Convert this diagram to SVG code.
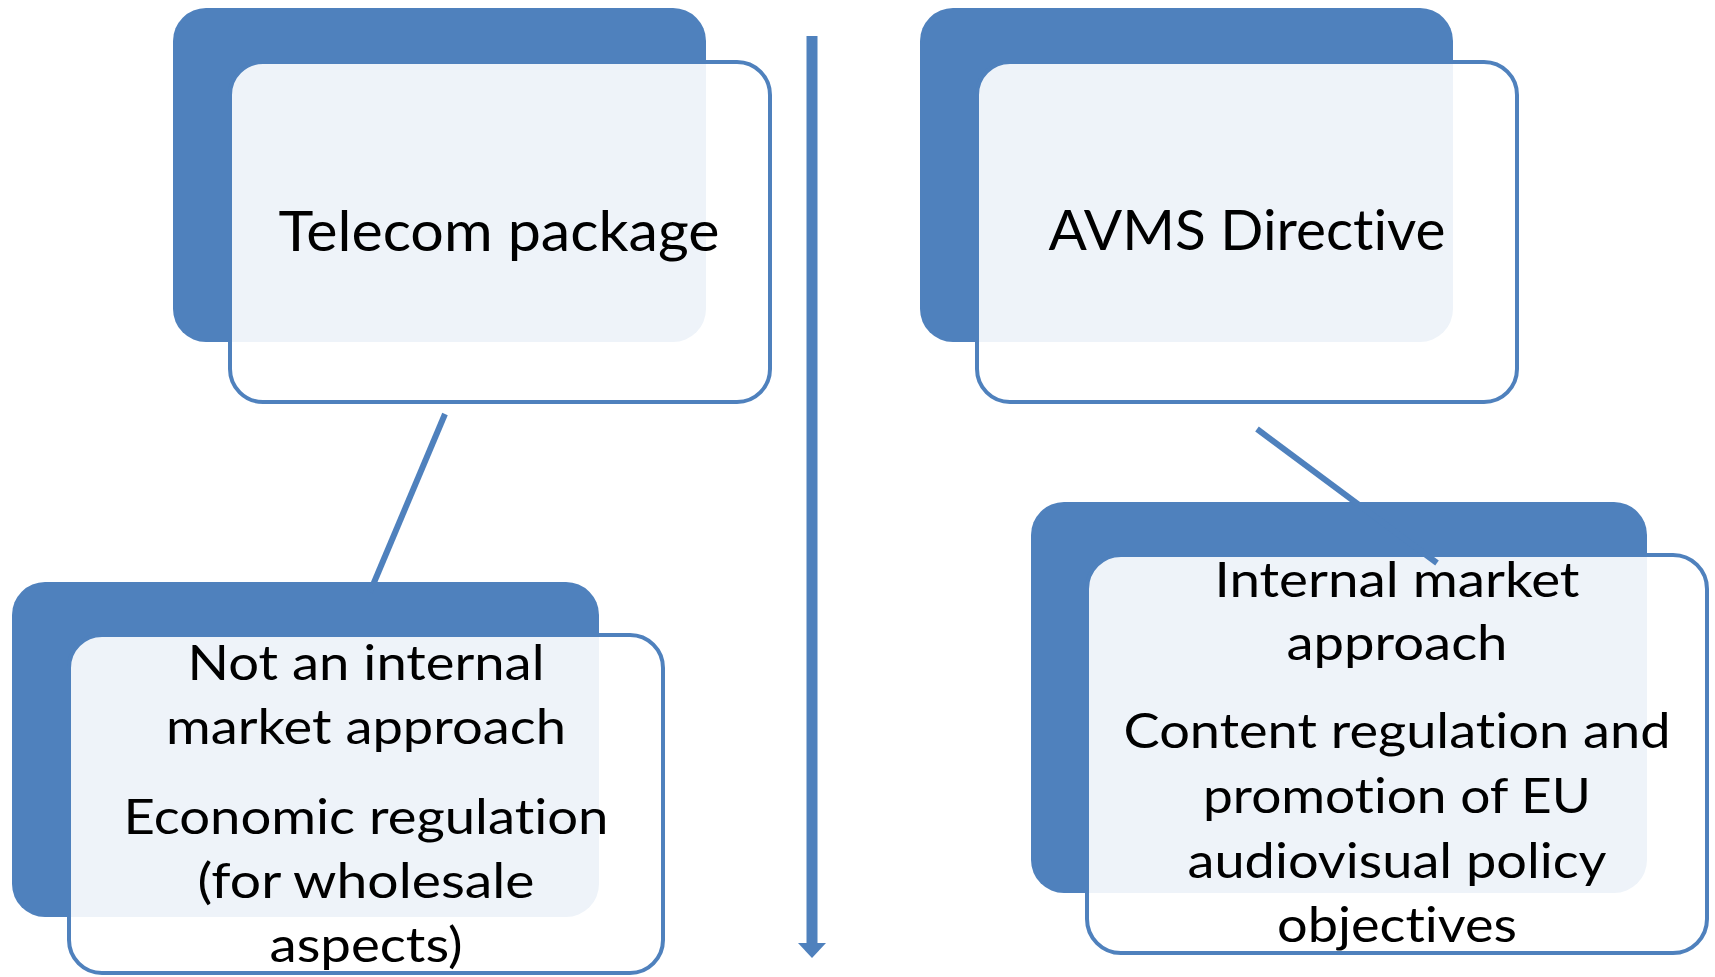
<svg xmlns="http://www.w3.org/2000/svg" width="1715" height="977" viewBox="0 0 1715 977">
  <defs>
    <style>
      .back { fill: #4F81BD; }
      .front { fill: #FFFFFF; fill-opacity: 0.9; stroke: #4F81BD; stroke-width: 4; }
      .big { font-family: Lato, "Open Sans", sans-serif; font-size: 56px; fill: #000; text-anchor: middle; font-variant-ligatures: none; font-feature-settings: "liga" 0, "clig" 0; }
      .txt { font-family: Lato, "Open Sans", sans-serif; font-size: 49px; fill: #000; text-anchor: middle; font-variant-ligatures: none; font-feature-settings: "liga" 0, "clig" 0; }
      .conn { stroke: #4F81BD; stroke-width: 6; fill: none; }
      .axis { stroke: #4F81BD; stroke-width: 11; fill: none; }
    </style>
  </defs>
  <rect width="1715" height="977" fill="#FFFFFF"/>

  <g id="telecom-package">
    <rect class="back" x="173" y="8" width="533" height="334" rx="33"/>
    <rect class="front" x="230" y="62" width="540" height="340" rx="33"/>
    <text class="big" x="499" y="251" textLength="441" lengthAdjust="spacingAndGlyphs">Telecom package</text>
  </g>

  <g id="avms-directive">
    <rect class="back" x="920" y="8" width="533" height="334" rx="33"/>
    <rect class="front" x="977" y="62" width="540" height="340" rx="33"/>
    <text class="big" x="1247" y="250" textLength="397" lengthAdjust="spacingAndGlyphs">AVMS Directive</text>
  </g>

  <g id="telecom-detail">
    <rect class="back" x="12" y="582" width="587" height="335" rx="33"/>
    <rect class="front" x="69" y="635" width="594" height="338" rx="33"/>
    <text class="txt" x="366" y="680" textLength="357" lengthAdjust="spacingAndGlyphs">Not an internal</text>
    <text class="txt" x="366" y="744" textLength="400" lengthAdjust="spacingAndGlyphs">market approach</text>
    <text class="txt" x="366" y="834" textLength="485" lengthAdjust="spacingAndGlyphs">Economic regulation</text>
    <text class="txt" x="366" y="898" textLength="337" lengthAdjust="spacingAndGlyphs">(for wholesale</text>
    <text class="txt" x="366" y="962" textLength="193" lengthAdjust="spacingAndGlyphs">aspects)</text>
  </g>

  <g id="avms-detail">
    <rect class="back" x="1031" y="502" width="616" height="391" rx="33"/>
    <rect class="front" x="1087" y="555" width="620" height="398" rx="34"/>
    <text class="txt" x="1397" y="597" textLength="365" lengthAdjust="spacingAndGlyphs">Internal market</text>
    <text class="txt" x="1397" y="660" textLength="221" lengthAdjust="spacingAndGlyphs">approach</text>
    <text class="txt" x="1397" y="748" textLength="547" lengthAdjust="spacingAndGlyphs">Content regulation and</text>
    <text class="txt" x="1397" y="813" textLength="388" lengthAdjust="spacingAndGlyphs">promotion of EU</text>
    <text class="txt" x="1397" y="878" textLength="419" lengthAdjust="spacingAndGlyphs">audiovisual policy</text>
    <text class="txt" x="1397" y="942" textLength="240" lengthAdjust="spacingAndGlyphs">objectives</text>
  </g>

  <g id="connectors">
    <line class="conn" x1="445" y1="414" x2="370" y2="592"/>
    <line class="conn" x1="1257" y1="429" x2="1437" y2="563"/>
    <line class="axis" x1="812" y1="36" x2="812" y2="944"/>
    <polygon points="798,943 826,943 812,958" fill="#4F81BD"/>
  </g>
</svg>
